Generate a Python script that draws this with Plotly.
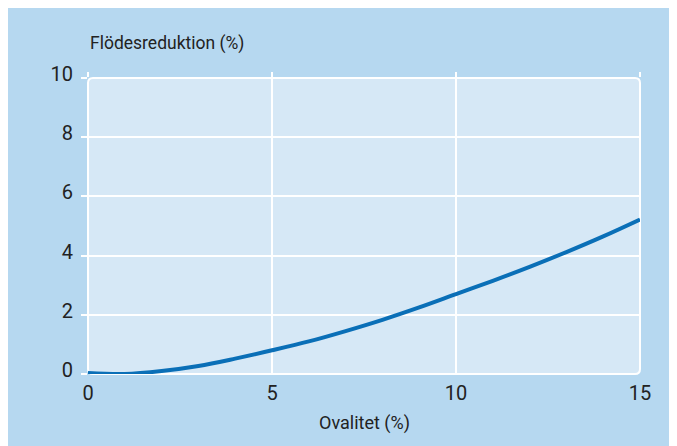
import plotly.graph_objects as go

ovalitet = [0, 1, 2, 3, 4, 5, 6, 7, 8, 9, 10, 11, 12, 13, 14, 15]
flodesreduktion = [0.03, 0.0, 0.1, 0.27, 0.52, 0.8, 1.1, 1.45, 1.83, 2.25, 2.7, 3.15, 3.62, 4.12, 4.65, 5.22]
x_ticks = [0, 5, 10, 15]
y_ticks = [0, 2, 4, 6, 8, 10]
x_title = "Ovalitet (%)"
y_title = "Flödesreduktion (%)"

W, H = 677, 446
L, R, T, B = 80, 45, 70, 80
pw, ph = W - L - R, H - T - B

BLUE = "#b6d8f0"
PLOT = "#d6e8f6"
LINE = "#0a6fb7"
TXT = "#222222"
FONT = "Roboto, Liberation Sans, sans-serif"

fig = go.Figure()
fig.add_trace(go.Scatter(x=ovalitet, y=flodesreduktion, mode="lines",
                         line=dict(color=LINE, width=4, shape="spline", smoothing=1.0),
                         hoverinfo="skip", showlegend=False))
# invisible trace for top axis ticks
fig.add_trace(go.Scatter(x=[0, 15], y=[0, 0], xaxis="x2", mode="lines",
                         line=dict(width=0), showlegend=False, hoverinfo="skip"))

# rounded plot area in paper coords
r = 5
rx, ry = r / pw, r / ph
path = (f"M {rx} 0 L {1-rx} 0 Q 1 0 1 {ry} L 1 {1-ry} Q 1 1 {1-rx} 1 "
        f"L {rx} 1 Q 0 1 0 {1-ry} L 0 {ry} Q 0 0 {rx} 0 Z")
shapes = [
    dict(type="path", xref="paper", yref="paper", path=path,
         fillcolor=PLOT, line=dict(color="white", width=2), layer="below"),
]

fig.update_layout(
    width=W, height=H,
    margin=dict(l=L, r=R, t=T, b=B),
    paper_bgcolor=BLUE,
    plot_bgcolor="rgba(0,0,0,0)",
    font=dict(family=FONT, color=TXT, size=17),
    shapes=shapes,
    xaxis=dict(range=[0, 15], tickvals=x_ticks, showgrid=True, gridcolor="white", gridwidth=2,
               zeroline=False, showline=False, ticks="", tickfont=dict(size=20, color=TXT),
               ticklabelstandoff=5, fixedrange=True),
    xaxis2=dict(range=[0, 15], tickvals=x_ticks, overlaying="x", side="top", showgrid=False,
                zeroline=False, showline=False, ticks="outside", ticklen=5, tickwidth=2,
                tickcolor="white", showticklabels=False),
    yaxis=dict(range=[0, 10], tickvals=y_ticks, showgrid=True, gridcolor="white", gridwidth=2,
               zeroline=False, showline=False, ticks="outside", ticklen=6, tickwidth=2,
               tickcolor="white", tickfont=dict(size=20, color=TXT), ticklabelstandoff=4,
               ticklabelshift=-4, fixedrange=True),
    annotations=[
        dict(text=y_title, xref="paper", yref="paper", x=0, y=1 + (T - 35) / ph,
             xanchor="left", yanchor="middle", showarrow=False, font=dict(size=17.5, color=TXT)),
        dict(text=x_title, xref="paper", yref="paper", x=(356 - L) / pw, y=-(415 - (H - B)) / ph,
             xanchor="center", yanchor="middle", showarrow=False, font=dict(size=18, color=TXT)),
    ],
)

fig.write_html("out.html")
